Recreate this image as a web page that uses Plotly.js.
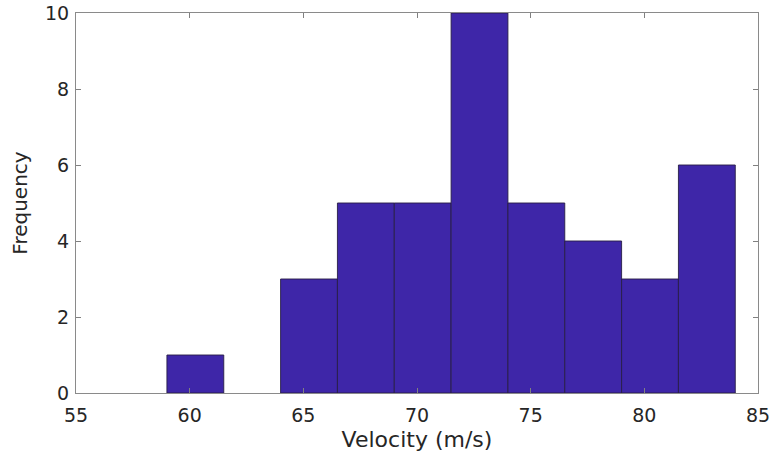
<!DOCTYPE html>
<html>
<head>
<meta charset="utf-8">
<script src="https://cdn.plot.ly/plotly-3.0.1.min.js"></script>
<style>html,body{margin:0;padding:0;background:#fff;}#chart{width:771px;height:455px;}</style>
</head>
<body>
<div id="chart"></div>
<script>
const binEdges = [59, 61.5, 64, 66.5, 69, 71.5, 74, 76.5, 79, 81.5, 84];
const counts = [1, 0, 3, 5, 5, 10, 5, 4, 3, 6];
const xTicks = [55, 60, 65, 70, 75, 80, 85];
const yTicks = [0, 2, 4, 6, 8, 10];

const centers = counts.map((c, i) => (binEdges[i] + binEdges[i + 1]) / 2);
const widths = counts.map((c, i) => binEdges[i + 1] - binEdges[i]);

const trace = {
  type: 'bar',
  x: centers,
  y: counts,
  width: widths,
  marker: {
    color: 'rgb(62,38,168)',
    line: { color: 'rgba(40,30,70,0.9)', width: counts.map(c => (c > 0 ? 1 : 0)) }
  },
  hoverinfo: 'x+y'
};

const fontFam = 'DejaVu Sans, Liberation Sans, Arial, sans-serif';
const layout = {
  width: 771, height: 455,
  margin: { l: 76, r: 13, t: 13, b: 62 },
  paper_bgcolor: '#fff', plot_bgcolor: '#fff',
  showlegend: false,
  bargap: 0,
  xaxis: {
    range: [55, 85], tickvals: xTicks, ticktext: xTicks.map(String),
    ticks: 'inside', ticklen: 5, tickcolor: '#808080', tickwidth: 1,
    showline: true, linecolor: '#8a8a8a', linewidth: 1, mirror: 'ticks',
    showgrid: false, zeroline: false, ticklabelstandoff: 5,
    tickfont: { family: fontFam, size: 19, color: '#262626' },
    title: { text: 'Velocity (m/s)', font: { family: fontFam, size: 22, color: '#262626' }, standoff: 6 }
  },
  yaxis: {
    range: [0, 10], tickvals: yTicks, ticktext: yTicks.map(String),
    ticks: 'inside', ticklen: 5, tickcolor: '#808080', tickwidth: 1,
    showline: true, linecolor: '#8a8a8a', linewidth: 1, mirror: 'ticks',
    showgrid: false, zeroline: false, ticklabelstandoff: 2,
    tickfont: { family: fontFam, size: 19, color: '#262626' },
    title: { text: 'Frequency', font: { family: fontFam, size: 20, color: '#262626' }, standoff: 12 }
  }
};

Plotly.newPlot('chart', [trace], layout, { displayModeBar: false, staticPlot: true });
</script>
</body>
</html>
